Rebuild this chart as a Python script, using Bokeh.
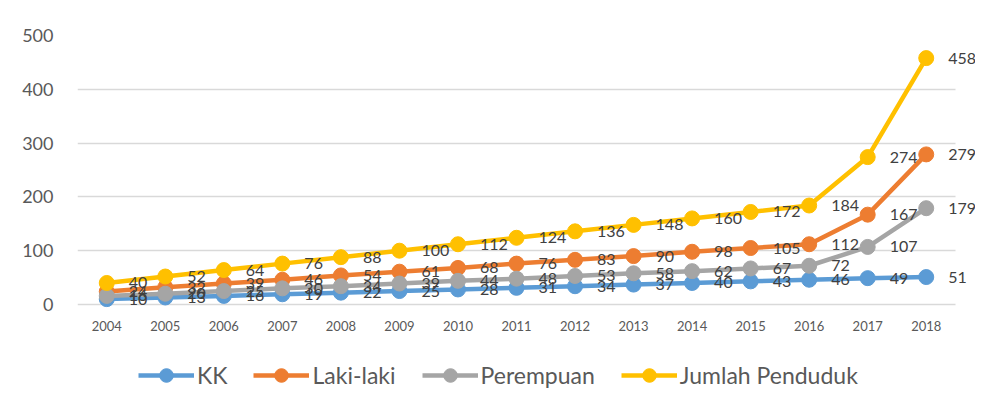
from bokeh.plotting import figure
from bokeh.models import ColumnDataSource, Range1d, FixedTicker, Legend, LegendItem
from bokeh.core.properties import value
from bokeh.embed import file_html
from bokeh.resources import INLINE

years = [2004, 2005, 2006, 2007, 2008, 2009, 2010, 2011, 2012, 2013, 2014, 2015, 2016, 2017, 2018]
kk = [10, 13, 16, 19, 22, 25, 28, 31, 34, 37, 40, 43, 46, 49, 51]
laki = [24, 32, 39, 46, 54, 61, 68, 76, 83, 90, 98, 105, 112, 167, 279]
perempuan = [16, 20, 25, 30, 34, 39, 44, 48, 53, 58, 62, 67, 72, 107, 179]
jumlah = [40, 52, 64, 76, 88, 100, 112, 124, 136, 148, 160, 172, 184, 274, 458]

series_names = ["KK", "Laki-laki", "Perempuan", "Jumlah Penduduk"]
series_values = [kk, laki, perempuan, jumlah]
colors = ["#5B9BD5", "#ED7D31", "#A5A5A5", "#FFC000"]
y_ticks = [0, 100, 200, 300, 400, 500]

FONT = "Lato"

# frame: x 77..975 px, y 35..400 px ; plot area (0..500, 2003.5..2018.5) -> 77..955, 35..304
px_per_year = (955 - 77) / 15.0
x_end = 2018.5 + (975 - 955) / px_per_year
units_per_px = 500 / (304 - 35)
y_start = -(400 - 304) * units_per_px

p = figure(width=975, height=400, output_backend="svg", toolbar_location=None,
           x_range=Range1d(2003.5, x_end), y_range=Range1d(y_start, 500),
           min_border_left=77, min_border_right=0, min_border_top=35, min_border_bottom=0)
p.outline_line_color = None
p.background_fill_color = "white"
p.border_fill_color = "white"

p.xgrid.grid_line_color = None
p.ygrid.grid_line_color = "#d9d9d9"
p.ygrid.grid_line_width = 1.5
try:
    p.ygrid.cross_bounds = (2003.5, 2018.5)
except Exception:
    pass

p.xaxis.visible = False
p.yaxis.ticker = FixedTicker(ticks=y_ticks)
p.yaxis.axis_line_color = None
p.yaxis.major_tick_line_color = None
p.yaxis.minor_tick_line_color = None
p.yaxis.major_label_text_color = "#595959"
p.yaxis.major_label_text_font = FONT
p.yaxis.major_label_text_font_size = "18px"
p.yaxis.major_label_standoff = 18

# x tick labels as text under the zero line
xsrc = ColumnDataSource(dict(x=years, y=[0] * len(years), t=[str(y) for y in years]))
p.text("x", "y", text="t", source=xsrc, y_offset=21, text_align="center",
       text_baseline="middle", text_color="#595959",
       text_font=value(FONT), text_font_size="13px")

items = []
for name, vals, col in zip(series_names, series_values, colors):
    src = ColumnDataSource(dict(x=years, y=vals))
    ln = p.line("x", "y", source=src, line_color=col, line_width=4.5)
    sc = p.scatter("x", "y", source=src, size=15, fill_color=col, line_color=col)
    items.append(LegendItem(label=name, renderers=[ln, sc]))

for vals in series_values:
    src = ColumnDataSource(dict(x=years, y=vals, t=[str(v) for v in vals]))
    p.text("x", "y", text="t", source=src, x_offset=22, text_align="left",
           text_baseline="middle", text_color="#404040",
           text_font=value(FONT), text_font_size="16px")

legend = Legend(items=items, orientation="horizontal", location=(61, 8))
legend.label_text_font = FONT
legend.label_text_font_size = "23px"
legend.label_text_color = "#595959"
legend.glyph_width = 56
legend.glyph_height = 34
legend.label_standoff = 3
legend.spacing = 26
legend.border_line_color = None
legend.background_fill_alpha = 0
legend.margin = 0
legend.padding = 2
p.add_layout(legend, "center")

open("out.html", "w").write(file_html(p, INLINE))
